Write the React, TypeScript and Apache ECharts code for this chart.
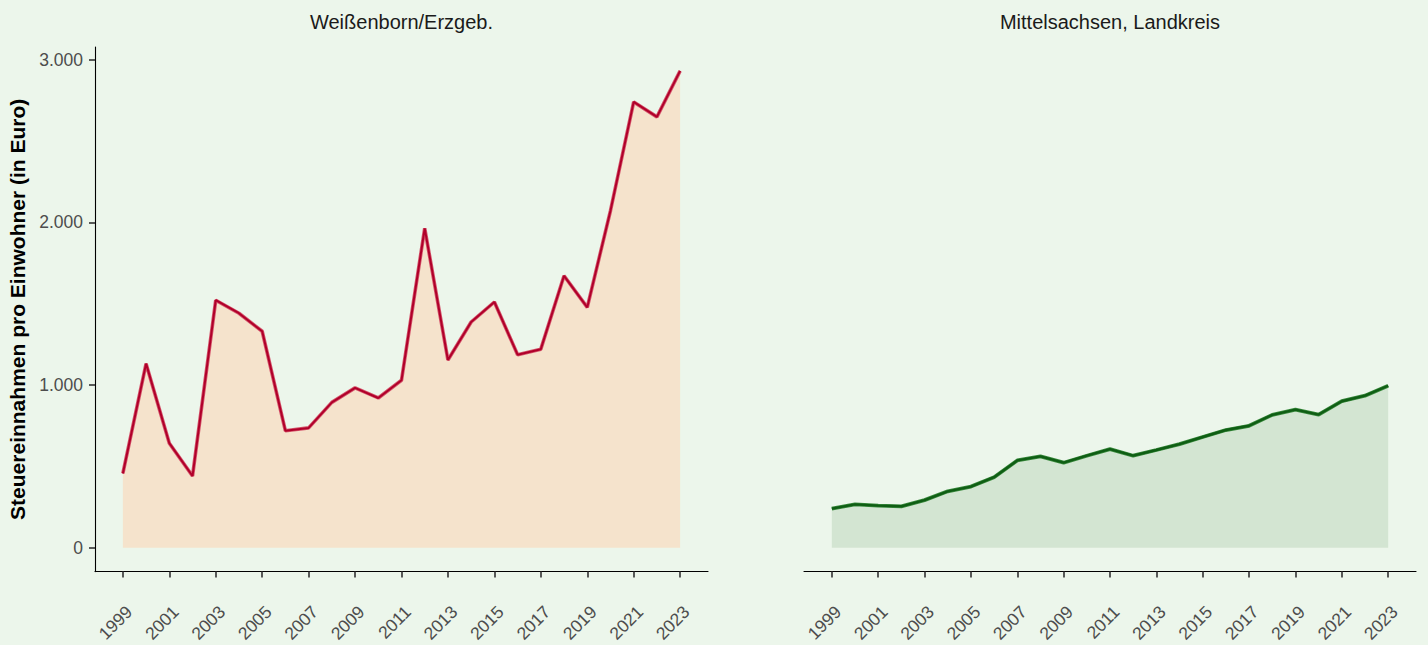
import React, { useEffect, useRef } from "react";
import * as echarts from "echarts";

const years = [1999, 2000, 2001, 2002, 2003, 2004, 2005, 2006, 2007, 2008, 2009, 2010, 2011, 2012, 2013, 2014, 2015, 2016, 2017, 2018, 2019, 2020, 2021, 2022, 2023];
const weissenborn = [457, 1132, 643, 441, 1522, 1442, 1331, 719, 737, 894, 983, 921, 1030, 1964, 1154, 1388, 1511, 1187, 1221, 1672, 1478, 2072, 2741, 2649, 2932];
const mittelsachsen = [241, 267, 259, 255, 293, 347, 376, 434, 537, 562, 523, 566, 606, 566, 601, 637, 681, 724, 750, 817, 849, 819, 901, 935, 996];
const xTickLabels = [1999, 2001, 2003, 2005, 2007, 2009, 2011, 2013, 2015, 2017, 2019, 2021, 2023];
const yTickLabels = [0, 1000, 2000, 3000];
const panelTitles = ["Weißenborn/Erzgeb.", "Mittelsachsen, Landkreis"];
const yAxisTitle = "Steuereinnahmen pro Einwohner (in Euro)";

const fmtDE = (v: number) => {
  const s = Math.round(v).toString();
  return s.replace(/\B(?=(\d{3})+(?!\d))/g, ".");
};

export default function App() {
  const ref = useRef<HTMLDivElement>(null);
  useEffect(() => {
    document.body.style.margin = "0";
    if (!ref.current) return;
    const chart = echarts.init(ref.current, null, { renderer: "svg" });
    const font = "'Liberation Sans', Arial, Helvetica, sans-serif";
    const allVals = [...weissenborn, ...mittelsachsen];
    const yMaxData = Math.max(...allVals);
    const yExp = yMaxData * 0.05;
    const xExp = (years[years.length - 1] - years[0]) * 0.05;
    const xMin = years[0] - xExp;
    const xMax = years[years.length - 1] + xExp;

    const grids = [
      { left: 95, top: 47, width: 613, height: 526 },
      { left: 804, top: 47, width: 612, height: 526 },
    ];

    const mkX = (i: number) => ({
      type: "value",
      gridIndex: i,
      min: xMin,
      max: xMax,
      splitLine: { show: false },
      axisLine: { show: true, onZero: false, lineStyle: { color: "#000", width: 1.1 } },
      axisTick: {
        show: true,
        customValues: xTickLabels,
        length: 6,
        lineStyle: { color: "#333", width: 1.6 },
      },
      axisLabel: {
        customValues: xTickLabels,
        rotate: 45,
        margin: 31,
        align: "right",
        verticalAlign: "top",
        color: "#4d4d4d",
        fontSize: 17.5,
        fontFamily: font,
        formatter: (v: number) => String(v),
      },
    });

    const mkY = (i: number) => ({
      type: "value",
      gridIndex: i,
      min: -yExp,
      max: yMaxData + yExp,
      splitLine: { show: false },
      axisLine: { show: i === 0, onZero: false, lineStyle: { color: "#000", width: 1.1 } },
      axisTick: {
        show: i === 0,
        customValues: yTickLabels,
        length: 6,
        lineStyle: { color: "#333", width: 1.6 },
      },
      axisLabel: {
        show: i === 0,
        customValues: yTickLabels,
        margin: 12,
        color: "#4d4d4d",
        fontSize: 17.5,
        fontFamily: font,
        formatter: (v: number) => fmtDE(v),
      },
      name: i === 0 ? yAxisTitle : "",
      nameLocation: "middle",
      nameGap: 67,
      nameRotate: 90,
      nameTextStyle: { color: "#000", fontSize: 21, fontWeight: "bold", fontFamily: font },
    });

    const option: any = {
      animation: false,
      backgroundColor: "#ecf6eb",
      grid: grids,
      xAxis: [mkX(0), mkX(1)],
      yAxis: [mkY(0), mkY(1)],
      graphic: [
        {
          type: "text",
          x: grids[0].left + grids[0].width / 2,
          y: 22,
          style: { text: panelTitles[0], fill: "#1a1a1a", fontSize: 20, fontFamily: font, textAlign: "center", textVerticalAlign: "middle" },
        },
        {
          type: "text",
          x: grids[1].left + grids[1].width / 2,
          y: 22,
          style: { text: panelTitles[1], fill: "#1a1a1a", fontSize: 20, fontFamily: font, textAlign: "center", textVerticalAlign: "middle" },
        },
      ],
      series: [
        {
          type: "line",
          xAxisIndex: 0,
          yAxisIndex: 0,
          data: years.map((y, k) => [y, weissenborn[k]]),
          symbol: "none",
          lineStyle: { color: "#d5566c", width: 3.6 },
          areaStyle: { color: "#f5e3cc", opacity: 1 },
          z: 2,
        },
        {
          type: "line",
          xAxisIndex: 0,
          yAxisIndex: 0,
          data: years.map((y, k) => [y, weissenborn[k]]),
          symbol: "none",
          lineStyle: { color: "#b0002a", width: 2 },
          z: 3,
        },
        {
          type: "line",
          xAxisIndex: 1,
          yAxisIndex: 1,
          data: years.map((y, k) => [y, mittelsachsen[k]]),
          symbol: "none",
          lineStyle: { color: "#3a8a3e", width: 3.8 },
          areaStyle: { color: "#d3e5d2", opacity: 1 },
          z: 2,
        },
        {
          type: "line",
          xAxisIndex: 1,
          yAxisIndex: 1,
          data: years.map((y, k) => [y, mittelsachsen[k]]),
          symbol: "none",
          lineStyle: { color: "#0f5e14", width: 2.4 },
          z: 3,
        },
      ],
    };
    chart.setOption(option);
    return () => chart.dispose();
  }, []);
  return <div ref={ref} style={{ width: 1428, height: 645 }} />;
}
